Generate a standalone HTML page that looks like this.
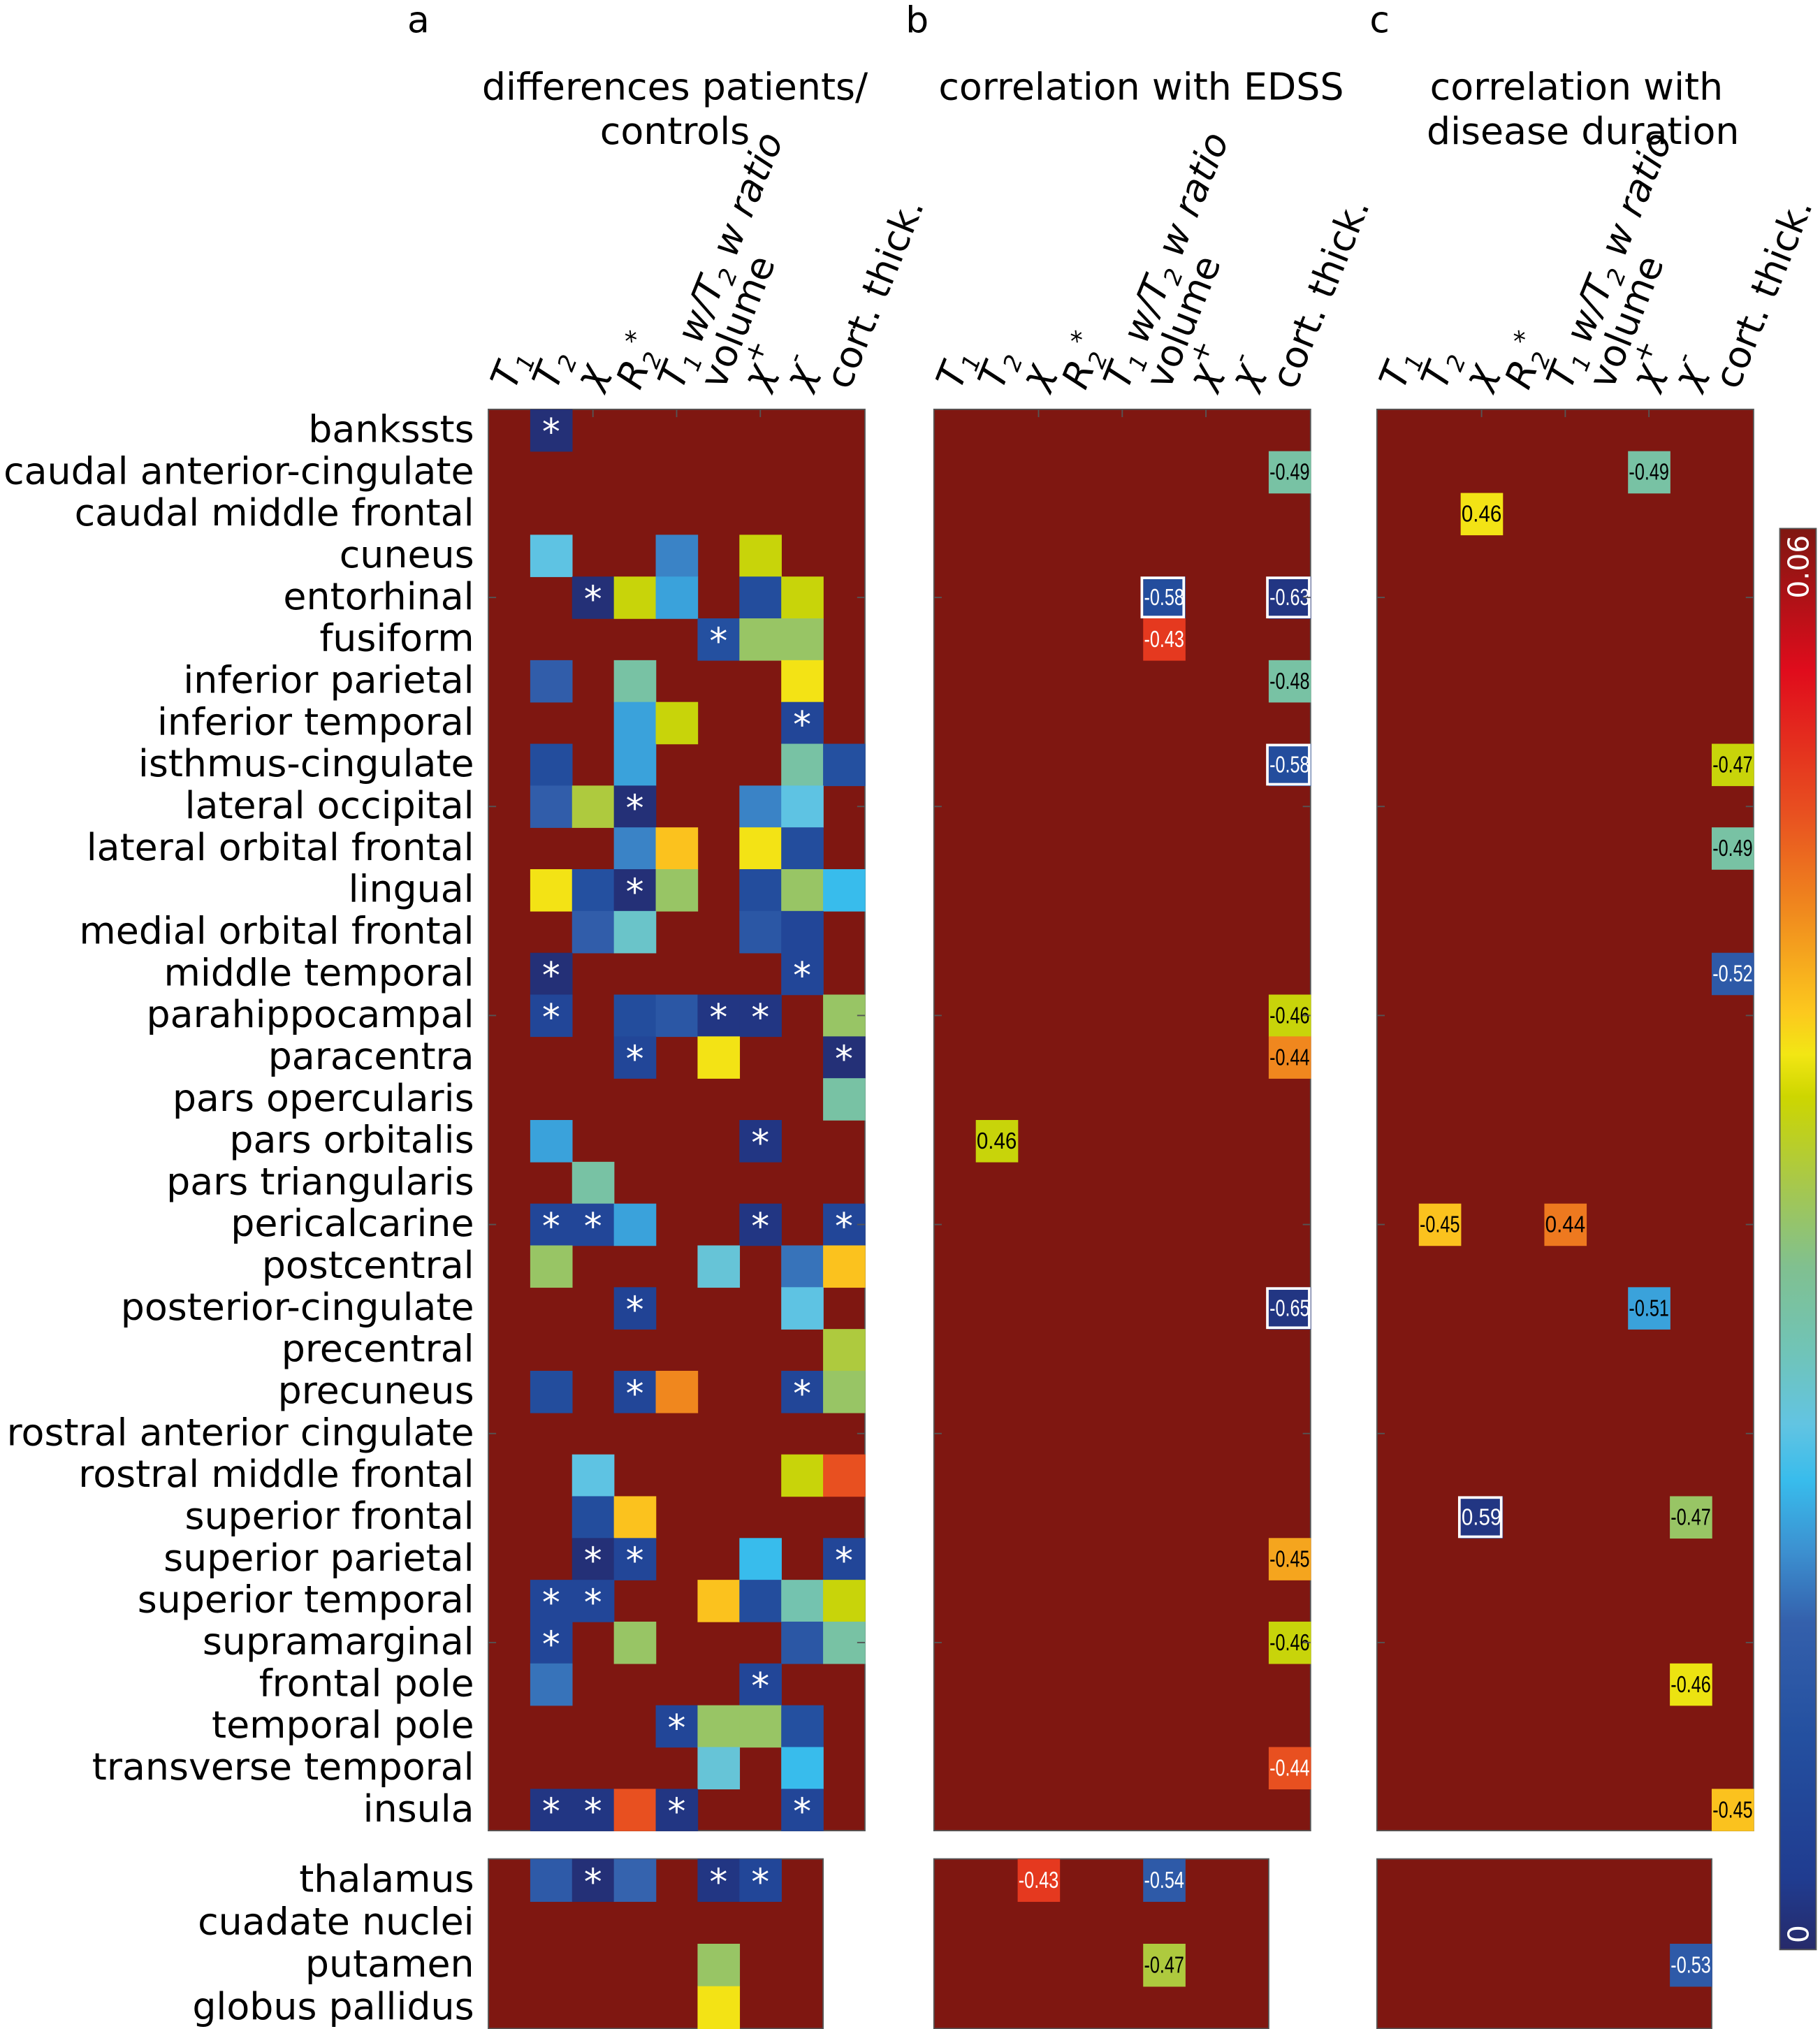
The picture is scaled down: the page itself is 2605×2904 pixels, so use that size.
<!DOCTYPE html>
<html><head><meta charset="utf-8"><style>
html,body{margin:0;padding:0;background:#fff;}
svg{display:block;}
</style></head><body>
<svg id="fig" xmlns="http://www.w3.org/2000/svg" width="2605" height="2904" viewBox="0 0 1405 1566.3" preserveAspectRatio="none" font-family="'DejaVu Sans', 'Liberation Sans', sans-serif">
<defs>
<linearGradient id="cbgrad" x1="0" y1="0" x2="0" y2="1">
<stop offset="0" stop-color="#7f1711"/><stop offset="0.1" stop-color="#e00c1c"/><stop offset="0.2" stop-color="#e85020"/>
<stop offset="0.27" stop-color="#f08a1e"/><stop offset="0.34" stop-color="#fcc81e"/><stop offset="0.37" stop-color="#f2e614"/>
<stop offset="0.4" stop-color="#cdd600"/><stop offset="0.46" stop-color="#a8c84a"/><stop offset="0.52" stop-color="#80c090"/>
<stop offset="0.58" stop-color="#70c4b8"/><stop offset="0.63" stop-color="#62c4e2"/><stop offset="0.67" stop-color="#38bcec"/>
<stop offset="0.72" stop-color="#3c90d0"/><stop offset="0.77" stop-color="#3460ac"/><stop offset="0.85" stop-color="#2450a0"/>
<stop offset="0.95" stop-color="#203c90"/><stop offset="1" stop-color="#262a6a"/>
</linearGradient>
</defs>
<g id="root"></g>
</svg>
<script>
// ---------- data ----------
const regions = ["bankssts","caudal anterior-cingulate","caudal middle frontal","cuneus","entorhinal","fusiform","inferior parietal","inferior temporal","isthmus-cingulate","lateral occipital","lateral orbital frontal","lingual","medial orbital frontal","middle temporal","parahippocampal","paracentra","pars opercularis","pars orbitalis","pars triangularis","pericalcarine","postcentral","posterior-cingulate","precentral","precuneus","rostral anterior cingulate","rostral middle frontal","superior frontal","superior parietal","superior temporal","supramarginal","frontal pole","temporal pole","transverse temporal","insula"];
const subRegions = ["thalamus","cuadate nuclei","putamen","globus pallidus"];
// panel a: p-values (cells not listed = 0.06)
const aRow = [0, 3,3,3, 4,4,4,4,4, 5,5,5, 6,6,6, 7,7,7, 8,8,8,8, 9,9,9,9,9, 10,10,10,10, 11,11,11,11,11,11,11, 12,12,12,12, 13,13, 14,14,14,14,14,14, 15,15,15, 16, 17,17, 18, 19,19,19,19,19, 20,20,20,20, 21,21, 22, 23,23,23,23,23, 25,25,25, 26,26, 27,27,27,27, 28,28,28,28,28,28, 29,29,29,29, 30,30, 31,31,31,31, 32,32, 33,33,33,33,33];
const aCol = [1, 1,4,6, 2,3,4,6,7, 5,6,7, 1,3,7, 3,4,7, 1,3,7,8, 1,2,3,6,7, 3,4,6,7, 1,2,3,4,6,7,8, 2,3,6,7, 1,7, 1,3,4,5,6,8, 3,5,8, 8, 1,6, 2, 1,2,3,6,8, 1,5,7,8, 3,7, 8, 1,3,4,7,8, 2,7,8, 2,3, 2,3,6,8, 1,2,5,6,7,8, 1,3,7,8, 1,6, 4,5,6,7, 5,7, 1,2,3,4,7];
const aVal = [0.001, 0.022,0.016,0.0355, 0.001,0.0355,0.018,0.008,0.0355, 0.009,0.031,0.031, 0.013,0.027,0.038, 0.018,0.0355,0.006, 0.008,0.018,0.027,0.009, 0.013,0.033,0.001,0.016,0.022, 0.016,0.040,0.038,0.008, 0.038,0.009,0.001,0.031,0.008,0.031,0.0198, 0.013,0.024,0.011,0.006, 0.001,0.006, 0.006,0.008,0.011,0.002,0.002,0.031, 0.006,0.038,0.001, 0.027, 0.018,0.002, 0.027, 0.006,0.006,0.018,0.002,0.006, 0.031,0.023,0.015,0.040, 0.005,0.022, 0.033, 0.008,0.006,0.044,0.006,0.031, 0.022,0.0355,0.048, 0.008,0.040, 0.001,0.006,0.0198,0.006, 0.006,0.006,0.040,0.008,0.026,0.0355, 0.006,0.031,0.011,0.027, 0.015,0.006, 0.006,0.031,0.031,0.009, 0.023,0.0198, 0.002,0.002,0.048,0.002,0.006];
const aStar = [1, 0,0,0, 1,0,0,0,0, 1,0,0, 0,0,0, 0,0,1, 0,0,0,0, 0,0,1,0,0, 0,0,0,0, 0,0,1,0,0,0,0, 0,0,0,0, 1,1, 1,0,0,1,1,0, 1,0,1, 0, 0,1, 0, 1,1,0,1,1, 0,0,0,0, 1,0, 0, 0,1,0,1,0, 0,0,0, 0,0, 1,1,0,1, 1,1,0,0,0,0, 1,0,0,0, 0,1, 1,0,0,0, 0,0, 1,1,0,1,1];
const aSubRow = [0,0,0,0,0, 2, 3];
const aSubCol = [1,2,3,5,6, 5, 5];
const aSubVal = [0.012,0.001,0.014,0.002,0.006, 0.031, 0.038];
const aSubStar = [0,1,0,1,1, 0, 0];
// panel b: correlation with EDSS
const bRow = [1, 4,4, 5, 6, 8, 14, 15, 17, 21, 27, 29, 32];
const bCol = [8, 5,8, 5, 8, 8, 8, 8, 1, 8, 8, 8, 8];
const bVal = [0.027, 0.008,0.002, 0.050, 0.027, 0.008, 0.0355, 0.044, 0.0355, 0.002, 0.042, 0.0355, 0.048];
const bLabel = ["-0.49","-0.58","-0.63","-0.43","-0.48","-0.58","-0.46","-0.44","0.46","-0.65","-0.45","-0.46","-0.44"];
const bBox = [0,1,1,0,0,1,0,0,0,1,0,0,0];
const bSubRow = [0,0,2];
const bSubCol = [2,5,5];
const bSubVal = [0.050,0.012,0.033];
const bSubLabel = ["-0.43","-0.54","-0.47"];
// panel c: correlation with disease duration
const cRow = [1, 2, 8, 10, 13, 19,19, 21, 26,26, 30, 33];
const cCol = [6, 2, 8, 8, 8, 1,4, 6, 2,7, 7, 8];
const cVal = [0.027, 0.038, 0.0355, 0.027, 0.012, 0.040,0.045, 0.018, 0.002,0.031, 0.0375, 0.040];
const cLabel = ["-0.49","0.46","-0.47","-0.49","-0.52","-0.45","0.44","-0.51","0.59","-0.47","-0.46","-0.45"];
const cBox = [0,0,0,0,0,0,0,0,1,0,0,0];
const cSubRow = [2];
const cSubCol = [7];
const cSubVal = [0.012];
const cSubLabel = ["-0.53"];

// ---------- colormap ----------
const cmapV = [0.06,0.054,0.048,0.0438,0.0396,0.0378,0.036,0.0324,0.0288,0.0252,0.0222,0.0198,0.0168,0.0138,0.009,0.003,0];
const cmapC = ["#7f1711","#e00c1c","#e85020","#f08a1e","#fcc81e","#f2e614","#cdd600","#a8c84a","#80c090","#70c4b8","#62c4e2","#38bcec","#3c90d0","#3460ac","#2450a0","#203c90","#262a6a"];
function hex(h){return [parseInt(h.slice(1,3),16),parseInt(h.slice(3,5),16),parseInt(h.slice(5,7),16)];}
function cmap(v){
  v=Math.max(0,Math.min(0.06,v));
  for(let i=0;i<cmapV.length-1;i++){
    const a=cmapV[i],b=cmapV[i+1];
    if(v<=a&&v>=b){const t=(a-v)/(a-b);const c1=hex(cmapC[i]),c2=hex(cmapC[i+1]);
      return "rgb("+c1.map((x,k)=>Math.round(x+(c2[k]-x)*t)).join(",")+")";}
  }
  return cmapC[0];
}
const NS="http://www.w3.org/2000/svg";
const root=document.getElementById("root");
function el(tag,attrs,parent){const e=document.createElementNS(NS,tag);for(const k in attrs)e.setAttribute(k,attrs[k]);(parent||root).appendChild(e);return e;}

const CW=32.3, RH=32.27, SRH=32.75;
const panels=[{x:377,name:"a"},{x:721,name:"b"},{x:1063,name:"c"}];
const topY=316, subTop=1435;
function xs(p,c){return panels[p].x+c*CW;}
function ys(r){return topY+r*RH;}
function ysub(r){return subTop+r*SRH;}

panels.forEach((p,i)=>{
  const g=el("g",{});
  
  
  el("rect",{x:p.x,y:topY,width:9*CW,height:34*RH,fill:"#7f1711",stroke:"#555","stroke-width":1},g);
  const s=el("rect",{x:p.x,y:subTop,width:8*CW,height:4*SRH,fill:"#7f1711",stroke:"#555","stroke-width":1},g);
  
  
  p.g=g;
});

function drawCell(p,x,y,h,v,star,label,box){
  const g=panels[p].g;
  const r=el("rect",{x:x,y:y,width:CW+0.4,height:h+0.4,fill:cmap(v)},g);
  
  
  if(star){
    const t=el("text",{x:x+CW/2,y:y+h/2+11,"text-anchor":"middle","font-size":28,fill:"#fff","font-family":"'DejaVu Sans',sans-serif"},g);
    t.textContent="*";
    
    
  }
  if(label){
    if(box){
      const b=el("rect",{x:x-1,y:y+1,width:CW,height:h-2,fill:"none",stroke:"#fff","stroke-width":2},g);
      
      
    }
    const dark=(v<0.014||v>0.046);
    const t=el("text",{x:x+CW/2,y:y+h/2+6,"text-anchor":"middle","font-size":18,fill:dark?"#fff":"#000","font-family":"'Liberation Sans',sans-serif",textLength:31,lengthAdjust:"spacingAndGlyphs"},g);
    t.textContent=label;
    
    
  }
}
aRow.forEach((r,i)=>drawCell(0,xs(0,aCol[i]),ys(r),RH,aVal[i],aStar[i],null,0));
aSubRow.forEach((r,i)=>drawCell(0,xs(0,aSubCol[i]),ysub(r),SRH,aSubVal[i],aSubStar[i],null,0));
bRow.forEach((r,i)=>drawCell(1,xs(1,bCol[i]),ys(r),RH,bVal[i],0,bLabel[i],bBox[i]));
bSubRow.forEach((r,i)=>drawCell(1,xs(1,bSubCol[i]),ysub(r),SRH,bSubVal[i],0,bSubLabel[i],0));
cRow.forEach((r,i)=>drawCell(2,xs(2,cCol[i]),ys(r),RH,cVal[i],0,cLabel[i],cBox[i]));
cSubRow.forEach((r,i)=>drawCell(2,xs(2,cSubCol[i]),ysub(r),SRH,cSubVal[i],0,cSubLabel[i],0));

panels.forEach((p)=>{
  [4,9,14,19,24,29].forEach(r=>{
    el("line",{x1:p.x,x2:p.x+6,y1:ys(r)+RH/2,y2:ys(r)+RH/2,stroke:"#555","stroke-width":1});
    el("line",{x1:p.x+9*CW-6,x2:p.x+9*CW,y1:ys(r)+RH/2,y2:ys(r)+RH/2,stroke:"#555","stroke-width":1});
  });
  [2,4,6].forEach(c=>el("line",{x1:p.x+c*CW+CW/2,x2:p.x+c*CW+CW/2,y1:topY,y2:topY+6,stroke:"#555","stroke-width":1}));
});

regions.forEach((n,i)=>{
  const t=el("text",{x:366,y:ys(i)+RH/2+9,"text-anchor":"end","font-size":29,fill:"#000"});
  t.textContent=n;
  
  
});
subRegions.forEach((n,i)=>{
  const t=el("text",{x:366,y:ysub(i)+SRH/2+9,"text-anchor":"end","font-size":29,fill:"#000"});
  t.textContent=n;
  
  
});
</script>
<script>
(function(){
const root=document.getElementById("root");
const heads=[
 '<tspan font-style="italic">T</tspan><tspan font-size="18" dy="6" font-style="italic">1</tspan>',
 '<tspan font-style="italic">T</tspan><tspan font-size="18" dy="6" font-style="italic">2</tspan>',
 '<tspan font-style="italic">χ</tspan>',
 '<tspan font-style="italic">R</tspan><tspan font-size="18" dy="6" font-style="italic">2</tspan><tspan font-size="20" dy="-18">*</tspan>',
 '<tspan font-style="italic">T</tspan><tspan font-size="18" dy="6" font-style="italic">1</tspan><tspan dy="-6" font-style="italic"> w/T</tspan><tspan font-size="18" dy="6" font-style="italic">2</tspan><tspan dy="-6" font-style="italic"> w ratio</tspan>',
 'volume',
 '<tspan font-style="italic">χ</tspan><tspan font-size="20" dy="-12">+</tspan>',
 '<tspan font-style="italic">χ</tspan><tspan font-size="20" dy="-12">-</tspan>',
 'cort. thick.'
];
const px=[377,721,1063];
let s='';
px.forEach((x0,p)=>{
  heads.forEach((h,c)=>{
    const cx=x0+c*32.3+16+4;
    s+='<text font-size="29" fill="#000" transform="translate('+cx+',302) rotate(-68)">'+h+'</text>';
  });
});
s+='<text x="323" y="25" font-size="28" text-anchor="middle">a</text>';
s+='<text x="708" y="25" font-size="28" text-anchor="middle">b</text>';
s+='<text x="1065" y="25" font-size="28" text-anchor="middle">c</text>';
s+='<text font-size="29" text-anchor="middle"><tspan x="521" y="77">differences patients/</tspan><tspan x="521" y="111">controls</tspan></text>';
s+='<text font-size="29" text-anchor="middle" x="881" y="77">correlation with EDSS</text>';
s+='<text font-size="29" text-anchor="middle"><tspan x="1217" y="77">correlation with</tspan><tspan x="1222" y="111">disease duration</tspan></text>';
s+='<rect x="1374" y="408" width="28" height="1097" fill="url(#cbgrad)" stroke="#555" stroke-width="1"/>';
s+='<text font-size="22" fill="#fff" transform="translate(1396,462) rotate(-90)">0.06</text>';
s+='<text font-size="22" fill="#fff" transform="translate(1396,1500) rotate(-90)">0</text>';
root.insertAdjacentHTML('beforeend',s);
})();
</script>
</body></html>
